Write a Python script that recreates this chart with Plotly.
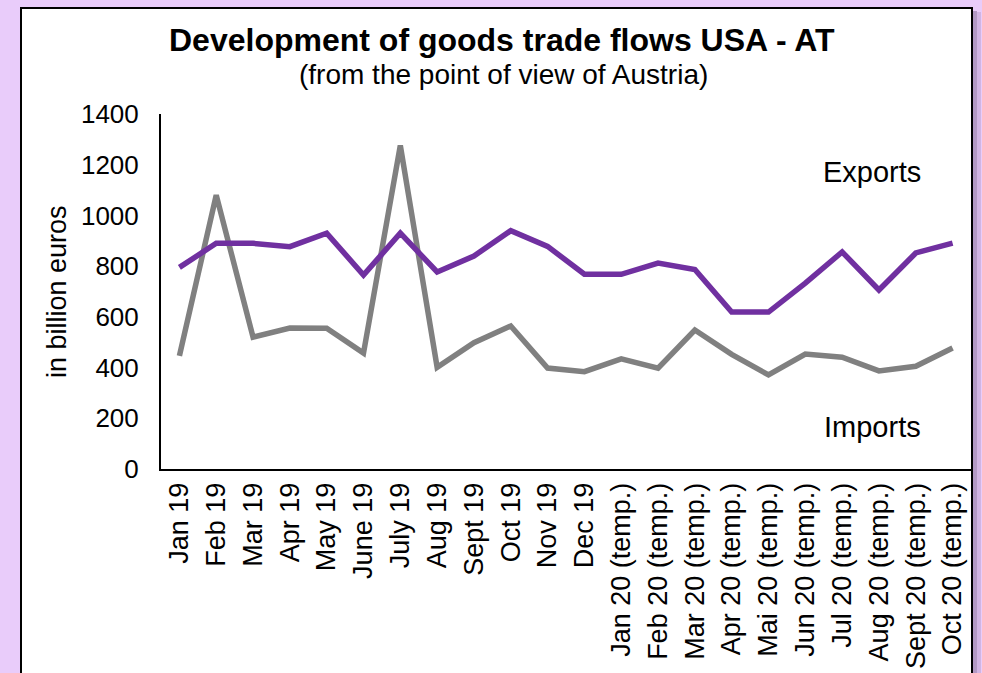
import plotly.graph_objects as go

# Monthly goods trade USA - AT (from Austria's perspective)
months = [
    "Jan 19", "Feb 19", "Mar 19", "Apr 19", "May 19", "June 19", "July 19",
    "Aug 19", "Sept 19", "Oct 19", "Nov 19", "Dec 19",
    "Jan 20 (temp.)", "Feb 20 (temp.)", "Mar 20 (temp.)", "Apr 20 (temp.)",
    "Mai 20 (temp.)", "Jun 20 (temp.)", "Jul 20 (temp.)", "Aug 20 (temp.)",
    "Sept 20 (temp.)", "Oct 20 (temp.)",
]
exports = [795, 890, 890, 877, 930, 765, 930, 777, 840, 940, 878, 768,
           768, 812, 787, 619, 619, 733, 856, 706, 852, 891]
imports = [446, 1080, 520, 556, 555, 457, 1276, 401, 498, 564, 398, 384,
           434, 398, 548, 452, 371, 453, 441, 387, 405, 477]

y_ticks = [0, 200, 400, 600, 800, 1000, 1200, 1400]

FONT = "Arial, Liberation Sans, sans-serif"
PURPLE = "#7030A0"
GREY = "#808080"
LAVENDER = "rgb(233,204,250)"

W, H = 982, 673
L, R, T, B = 161, 11, 114, 204
pw, ph = W - L - R, H - T - B


def px(x):
    return (x - L) / pw


def py(y):
    return (H - B - y) / ph


def label(text, x, y, size, angle=0):
    return dict(text=text, x=px(x), y=py(y), xref="paper", yref="paper",
                xanchor="center", yanchor="middle", textangle=angle,
                showarrow=False, font=dict(family=FONT, size=size, color="black"))


fig = go.Figure()
fig.add_trace(go.Scatter(x=months, y=imports, mode="lines", name="Imports",
                         line=dict(color=GREY, width=5.5)))
fig.add_trace(go.Scatter(x=months, y=exports, mode="lines", name="Exports",
                         line=dict(color=PURPLE, width=5.5)))

shapes = [
    # soft shadow on the right edge of the chart panel
    dict(type="rect", xref="paper", yref="paper", layer="below",
         x0=px(973), x1=px(977), y0=-1.0, y1=py(11),
         fillcolor="rgba(110,90,130,0.45)", line=dict(width=0)),
    dict(type="rect", xref="paper", yref="paper", layer="below",
         x0=px(977), x1=px(981), y0=-1.0, y1=py(12),
         fillcolor="rgba(140,110,160,0.25)", line=dict(width=0)),
    # white chart panel with black frame
    dict(type="rect", xref="paper", yref="paper", layer="below",
         x0=px(21), x1=px(972), y0=-1.0, y1=py(8),
         fillcolor="white", line=dict(color="black", width=2)),
]

annotations = [
    label("<b>Development of goods trade flows USA - AT</b>", 502, 40, 32),
    label("(from the point of view of Austria)", 503, 75, 28),
    label("in billion euros", 57, 291, 27, angle=-90),
    label("Exports", 872, 172, 29),
    label("Imports", 872, 427, 29),
]

fig.update_layout(
    width=W, height=H,
    margin=dict(l=L, r=R, t=T, b=B, pad=0, autoexpand=False),
    paper_bgcolor=LAVENDER,
    plot_bgcolor="rgba(0,0,0,0)",
    showlegend=False,
    shapes=shapes,
    annotations=annotations,
    font=dict(family=FONT, size=26, color="black"),
)
fig.update_xaxes(
    type="category", range=[-0.5, len(months) - 0.5],
    showline=True, linecolor="black", linewidth=2,
    showgrid=False, zeroline=False, ticks="", automargin=False,
    tickangle=-90, ticklabelstandoff=1,
    tickfont=dict(family=FONT, size=27, color="black"),
)
fig.update_yaxes(
    range=[0, 1400], tickvals=y_ticks,
    showline=True, linecolor="black", linewidth=2,
    showgrid=False, zeroline=False, ticks="", automargin=False,
    ticklabelstandoff=15,
    tickfont=dict(family=FONT, size=26, color="black"),
)

fig.write_html("out.html", config=dict(displayModeBar=False))
